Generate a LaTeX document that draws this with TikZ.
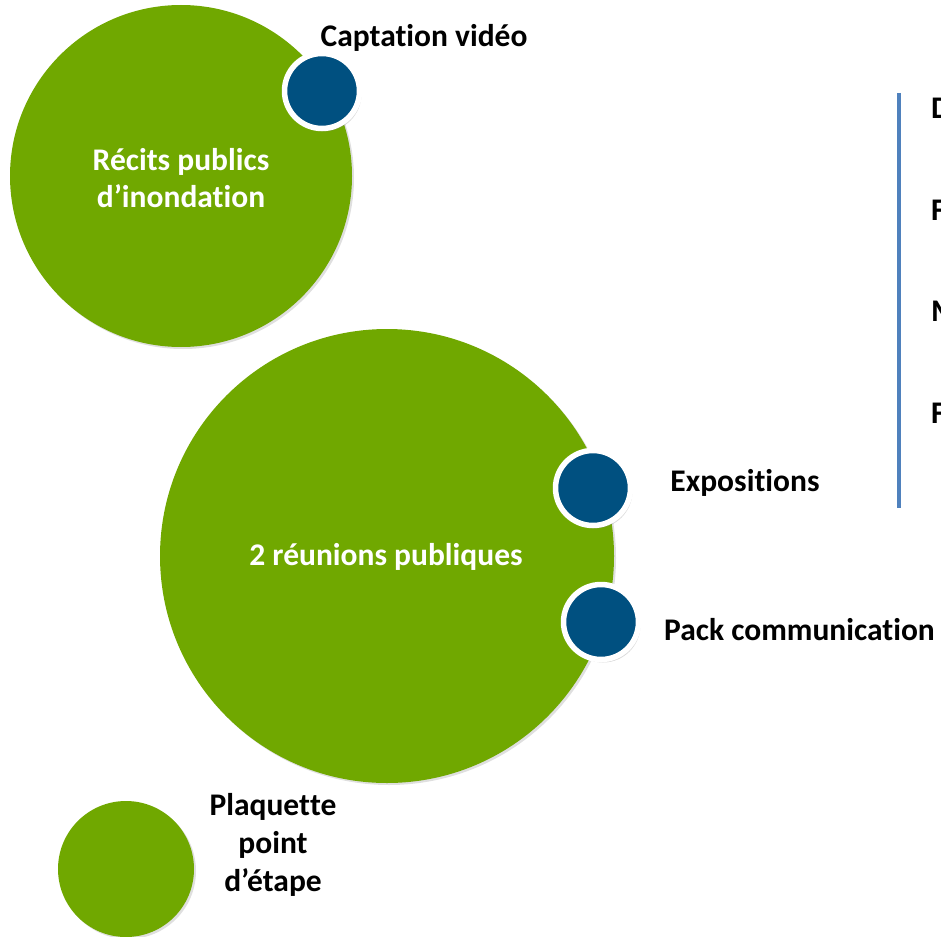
\documentclass[tikz,border=0pt]{standalone}
\usepackage{fontspec}
\setmainfont{Carlito}[Ligatures={NoCommon,NoContextual,NoRare},Contextuals=NoAlternate]
\usetikzlibrary{shadows}
\newcommand{\nolig}{\kern0pt{}}
\definecolor{leaf}{RGB}{112,168,0}
\definecolor{navy}{RGB}{0,80,128}
\definecolor{rule}{RGB}{79,129,189}
\tikzset{
  big/.style={circle, fill=leaf, inner sep=0pt, drop shadow={opacity=0.25, shadow xshift=2pt, shadow yshift=-2pt}},
  dot/.style={circle, fill=navy, draw=white, line width=5.5pt, inner sep=0pt, minimum size=75pt, drop shadow={opacity=0.3, shadow xshift=2pt, shadow yshift=-3pt}},
  lab/.style={font=\bfseries\fontsize{31.5}{38}\selectfont, align=center, text=black, inner sep=0pt},
  wlab/.style={lab, text=white, font=\bfseries\fontsize{31.5}{37}\selectfont},
}
\begin{document}
\begin{tikzpicture}[x=1pt,y=-1pt]
\useasboundingbox (0,0) rectangle (941,936);
\begin{scope}
\clip (0,0) rectangle (941,936);
\node[big, minimum size=342pt] (c1) at (181,176) {};
\node[big, minimum size=454pt] (c2) at (387,556) {};
\node[big, minimum size=136pt] (c3) at (126,869) {};
\node[dot] (d1) at (322,91) {};
\node[dot] (d2) at (593,488) {};
\node[dot] (d3) at (601,622) {};
\node[wlab] (t1) at (181,178) {Récits publics\\d’inondat\nolig ion};
\node[wlab] (t2) at (386,557) {2 réunions publiques};
\node[lab] (l1) at (424,38) {Captat\nolig ion vidéo};
\node[lab] (l2) at (745,483) {Exposit\nolig ions};
\node[lab, anchor=west] (l3) at (664,630) {Pack communicat\nolig ion};
\node[lab] (l4) at (273,845) {Plaquet\nolig te\\point\\d’étape};
\coordinate (rt) at (899,93);
\coordinate (rb) at (899,508);
\draw[rule, line width=4pt] (rt) -- (rb);
\node[lab, anchor=west] (r1) at (931,108) {D};
\node[lab, anchor=west] (r2) at (931,210) {F};
\node[lab, anchor=west] (r3) at (931,311) {M};
\node[lab, anchor=west] (r4) at (931,413) {F};
\end{scope}
\end{tikzpicture}
\end{document}
